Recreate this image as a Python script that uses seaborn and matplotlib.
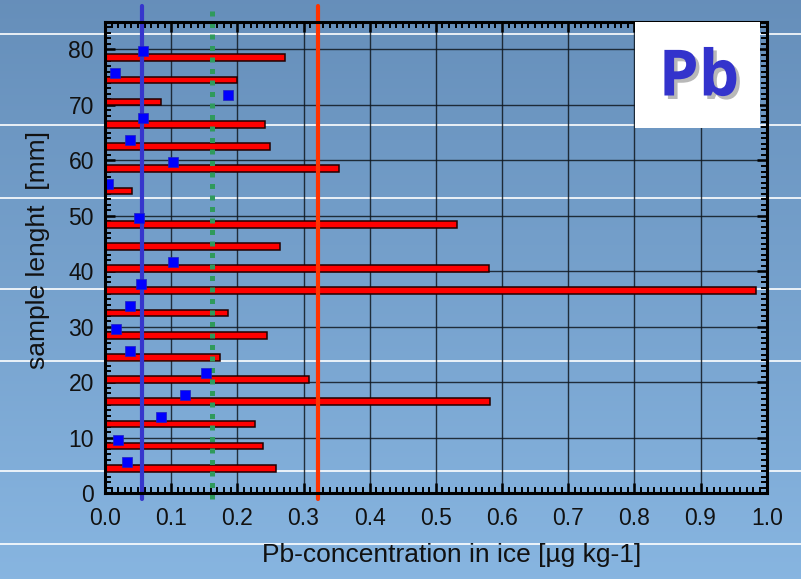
import numpy as np
import pandas as pd
import matplotlib
matplotlib.use("Agg")
import matplotlib.pyplot as plt
import matplotlib.patheffects as pe
from matplotlib.ticker import MultipleLocator, FormatStrFormatter
import seaborn as sns

# ---- data ----
bar_depth = [4.5, 8.5, 12.5, 16.5, 20.5, 24.5, 28.5, 32.5, 36.5, 40.5, 44.5, 48.5,
             54.5, 58.5, 62.5, 66.5, 70.5, 74.5, 78.5]
bar_conc = [0.259, 0.239, 0.227, 0.582, 0.308, 0.174, 0.245, 0.186, 0.984, 0.580, 0.264, 0.532,
            0.041, 0.354, 0.249, 0.242, 0.084, 0.199, 0.272]

pt_depth = [5.6, 9.6, 13.7, 17.7, 21.7, 25.7, 29.7, 33.7, 37.7, 41.7, 49.7,
            55.7, 59.7, 63.7, 67.7, 71.7, 75.7, 79.8]
pt_conc = [0.033, 0.020, 0.084, 0.121, 0.153, 0.038, 0.017, 0.038, 0.054, 0.103, 0.052,
           0.004, 0.103, 0.038, 0.057, 0.186, 0.015, 0.058]

blue_level = 0.056
green_level = 0.162
red_level = 0.3215

x_label = "Pb-concentration in ice [µg kg-1]"
y_label = "sample lenght  [mm]"
badge = "Pb"

sns.set_theme(style="ticks")
plt.rcParams["font.family"] = ["Liberation Sans", "DejaVu Sans"]

fig = plt.figure(figsize=(8.01, 5.79), dpi=100)

# background gradient
bg = fig.add_axes([0, 0, 1, 1], zorder=-10)
top = np.array([0.40, 0.56, 0.73])
bot = np.array([0.53, 0.71, 0.88])
t = np.linspace(0, 1, 256)[:, None]
grad = (top[None, :] * (1 - t) + bot[None, :] * t)[:, None, :]
bg.imshow(grad, aspect="auto", extent=[0, 1, 0, 1], origin="upper")
bg.set_xlim(0, 1)
bg.set_ylim(0, 1)
bg.axis("off")
for yp in [34, 125, 198, 289, 361, 471, 544]:
    bg.axhline(1 - yp / 579, color="white", lw=1.2)

ax = fig.add_axes([105 / 801, 1 - 493.3 / 579, (766.7 - 105) / 801, (493.3 - 21.7) / 579])
ax.set_facecolor("none")

bars = pd.DataFrame({"depth": bar_depth, "conc": bar_conc})
pts = pd.DataFrame({"depth": pt_depth, "conc": pt_conc})

sns.barplot(data=bars, x="conc", y="depth", orient="y", native_scale=True, width=0.3,
            color="#ff0000", saturation=1, edgecolor="#200000", linewidth=1.1, ax=ax, zorder=3)

ax.axvline(blue_level, ymin=-0.012, ymax=1.033, color="#3636cc", lw=3.0, clip_on=False, zorder=4)
ax.axvline(green_level, ymin=-0.012, ymax=1.03, color="#2f9a5c", lw=3.6,
           linestyle=(0, (1, 1.3)), dash_capstyle="butt", clip_on=False, zorder=4)
ax.axvline(red_level, ymin=-0.012, ymax=1.033, color="#ff3300", lw=3.0, clip_on=False, zorder=4)

sns.scatterplot(data=pts, x="conc", y="depth", marker="s", s=62, color="#0000ff",
                edgecolor="#2020c0", linewidth=0.5, legend=False, ax=ax, zorder=5)

ax.set_xlim(0, 1.0)
ax.set_ylim(0, 85)
ax.xaxis.set_major_locator(MultipleLocator(0.1))
ax.xaxis.set_minor_locator(MultipleLocator(0.01))
ax.xaxis.set_major_formatter(FormatStrFormatter("%.1f"))
ax.yaxis.set_major_locator(MultipleLocator(10))
ax.yaxis.set_minor_locator(MultipleLocator(1))

ax.grid(True, which="major", color="#101820", lw=1.0, alpha=0.85, zorder=1)
ax.set_axisbelow(True)
ax.tick_params(which="both", direction="in", top=True, right=True, color="black")
ax.tick_params(which="major", length=7, width=1.8, labelsize=16.5, labelcolor="#111111")
ax.tick_params(which="minor", length=4, width=1.4)
ax.tick_params(axis="x", which="major", pad=10)
ax.tick_params(axis="y", which="major", pad=8)
for s in ax.spines.values():
    s.set_linewidth(2.2)
    s.set_color("black")
    s.set_zorder(6)

ax.set_xlabel(x_label, fontsize=19, color="#111111", labelpad=9)
ax.set_ylabel(y_label, fontsize=19, color="#111111", labelpad=13)
ax.xaxis.label.set_x((451.5 - 105) / 661.7)
ax.yaxis.label.set_y((493.3 - 250) / 471.6)

# badge
fig.patches.append(matplotlib.patches.Rectangle((635 / 801, 1 - 128.3 / 579), (760 - 635) / 801,
                                                (128.3 - 21.7) / 579, transform=fig.transFigure,
                                                facecolor="white", edgecolor="none", zorder=7))
fig.text(699 / 801, 1 - 79 / 579, badge, ha="center", va="center", fontsize=46,
         fontweight="bold", family=["Open Sans", "DejaVu Sans"], color="#3333cc", zorder=8,
         path_effects=[pe.SimplePatchShadow(offset=(2.5, -2.5), shadow_rgbFace="#b8b8b8", alpha=1),
                       pe.Normal()])

fig.savefig("out.png", dpi=100)
